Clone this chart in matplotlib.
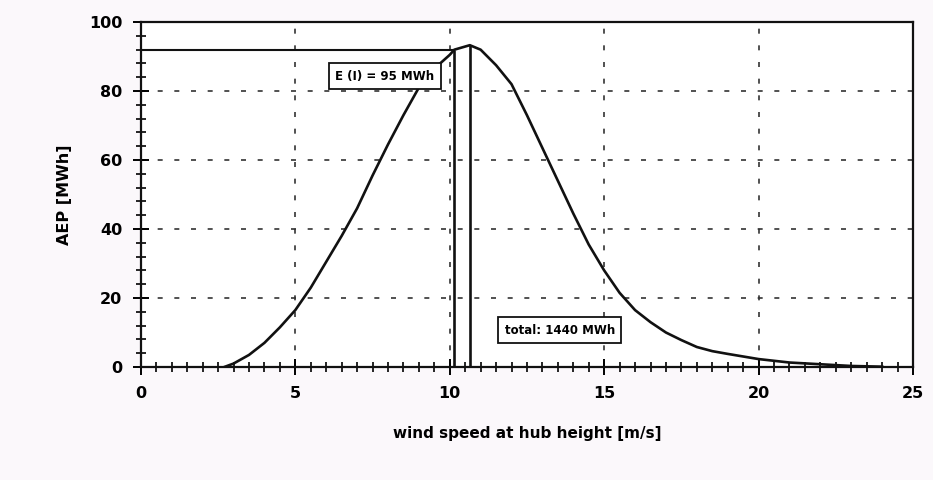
import numpy as np
import matplotlib.pyplot as plt
from matplotlib.ticker import MultipleLocator

# annual energy per wind speed
wind = [2.7, 3, 3.5, 4, 4.5, 5, 5.5, 6, 6.5, 7, 7.5, 8, 8.5, 9, 9.5, 10,
        10.15, 10.65, 11, 11.5, 12, 12.5, 13, 13.5, 14, 14.5, 15, 15.5, 16,
        16.5, 17, 17.5, 18, 18.5, 19, 20, 21, 22, 23, 24]
aep = [0, 1, 3.5, 7, 11.5, 16.5, 23, 30.5, 38, 46, 55.5, 64.5, 73, 81, 86.5,
       90.5, 92, 93.3, 92, 87.5, 82, 73, 63.5, 54, 44.5, 35.5, 28, 21.5, 16.5,
       13, 10, 7.8, 5.8, 4.6, 3.8, 2.3, 1.3, 0.8, 0.3, 0.1]

# bin marked at the peak
bin_lo, bin_hi = 10.15, 10.65
bin_lo_h, bin_hi_h = 92, 93.3
bin_label = "E (I) = 95 MWh"
total_label = "total: 1440 MWh"

bg = '#fbf8fb'
fig = plt.figure(figsize=(9.33, 4.8), dpi=100, facecolor=bg)
ax = fig.add_axes([0.151, 0.2354, 0.8276, 0.7186])
ax.set_facecolor('white')

ax.plot(wind, aep, color='#111111', lw=1.9, zorder=3, solid_joinstyle='round')

# the bin strip and its level line
ax.vlines([bin_lo, bin_hi], 0, [bin_lo_h, bin_hi_h], color='#111111', lw=1.9, zorder=3)
ax.hlines(bin_lo_h, 0, bin_lo, color='#111111', lw=1.5, zorder=3)

box = dict(boxstyle='square,pad=0.55', fc='white', ec='#111111', lw=1.3)
ax.text(7.9, 84.3, bin_label, ha='center', va='center', fontsize=8.5,
        fontweight='bold', bbox=box, zorder=5)
ax.text(13.56, 10.7, total_label, ha='center', va='center', fontsize=8.5,
        fontweight='bold', bbox=box, zorder=5)

ax.set_xlim(0, 25)
ax.set_ylim(0, 100)
ax.xaxis.set_major_locator(MultipleLocator(5))
ax.xaxis.set_minor_locator(MultipleLocator(0.5))
ax.yaxis.set_major_locator(MultipleLocator(20))
ax.yaxis.set_minor_locator(MultipleLocator(4))
ax.tick_params(which='major', direction='inout', length=11, width=1.4,
               labelsize=11.5, pad=8, top=False, right=False)
ax.tick_params(which='minor', direction='inout', length=7, width=1.2,
               top=False, right=False)
for lab in ax.get_xticklabels() + ax.get_yticklabels():
    lab.set_fontweight('bold')

ax.grid(True, which='major', color='#333333', linestyle=(0, (3, 7)), lw=1.2)
for s in ax.spines.values():
    s.set_linewidth(1.6)
    s.set_color('#111111')

ax.set_xlabel('wind speed at hub height [m/s]', fontsize=11, fontweight='bold',
              labelpad=18)
ax.set_ylabel('AEP [MWh]', fontsize=11.5, fontweight='bold', labelpad=12)

fig.savefig('out.png', dpi=100, facecolor=bg)
